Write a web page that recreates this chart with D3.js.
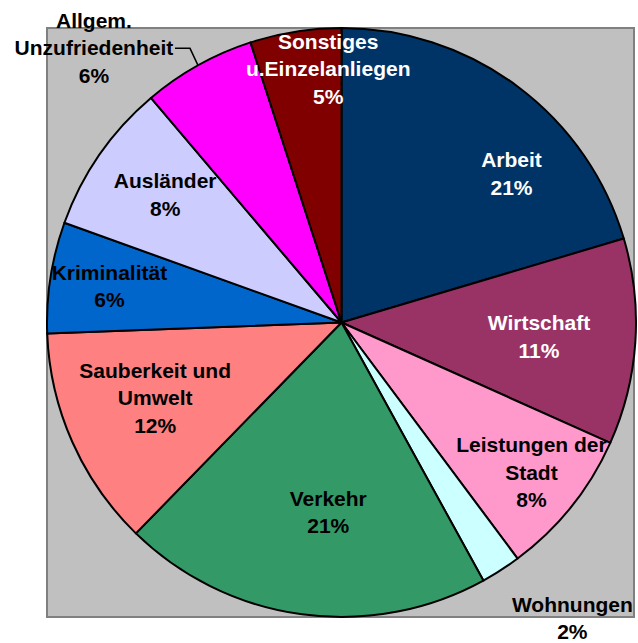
<!DOCTYPE html>
<html>
<head>
<meta charset="utf-8">
<script src="https://cdn.jsdelivr.net/npm/d3@7"></script>
<style>
  body { margin: 0; background: #fff; }
  text { font-family: "Liberation Sans", Arial, sans-serif; font-weight: bold; font-size: 21px; }
</style>
</head>
<body>
<div id="chart"></div>
<script>
// slices clockwise from 12 o'clock
const categories = ["Arbeit", "Wirtschaft", "Leistungen der Stadt", "Wohnungen", "Verkehr",
  "Sauberkeit und Umwelt", "Kriminalität", "Ausländer", "Allgem. Unzufriedenheit", "Sonstiges u.Einzelanliegen"];
const values = [20.4, 11.3, 8.1, 2.2, 20.3, 12.1, 6.1, 8.3, 6.2, 5.0];
const percentLabels = ["21%", "11%", "8%", "2%", "21%", "12%", "6%", "8%", "6%", "5%"];
const labelLines = [["Arbeit"], ["Wirtschaft"], ["Leistungen der", "Stadt"], ["Wohnungen"], ["Verkehr"],
  ["Sauberkeit und", "Umwelt"], ["Kriminalität"], ["Ausländer"], ["Allgem.", "Unzufriedenheit"], ["Sonstiges", "u.Einzelanliegen"]];

const colors = ["#003366", "#993366", "#FF99CC", "#CCFFFF", "#339966",
  "#FF8080", "#0066CC", "#CCCCFF", "#FF00FF", "#800000"];
const textColors = ["#fff", "#fff", "#000", "#000", "#000", "#000", "#000", "#000", "#000", "#fff"];
// label placement: [angle in degrees from north, distance from centre]
const labelPolar = [[48.8, 226], [94, 198], [128.3, 242], [142, 375], [184, 190],
  [248, 201], [279, 235], [306, 218], [318, 370], [357, 254]];
const outside = [false, false, false, true, false, false, false, false, true, false];

const width = 638, height = 643;
const cx = 341.5, cy = 322.5, r = 294.5;

const svg = d3.select("#chart").append("svg")
  .attr("width", width)
  .attr("height", height);

svg.append("defs").append("clipPath")
  .attr("id", "pieclip")
  .append("circle")
  .attr("r", r);

// plot area
svg.append("rect")
  .attr("x", 47).attr("y", 28)
  .attr("width", 587).attr("height", 589)
  .attr("fill", "#C0C0C0")
  .attr("stroke", "#808080")
  .attr("stroke-width", 2);

const pie = d3.pie().sort(null).value((d) => d);
const arcs = pie(values);
const arc = d3.arc().innerRadius(0).outerRadius(r);

const g = svg.append("g").attr("transform", `translate(${cx},${cy})`);

g.selectAll("path")
  .data(arcs)
  .enter()
  .append("path")
  .attr("d", arc)
  .attr("fill", (d, i) => colors[i])
  .attr("stroke", "#000")
  .attr("stroke-width", 2)
  .attr("stroke-linejoin", "round");

// leader line for Allgem. Unzufriedenheit
const lead = arcs[8];
const midA = (lead.startAngle + lead.endAngle) / 2;
const ex = r * Math.sin(midA), ey = -r * Math.cos(midA);
g.append("polyline")
  .attr("points", [[ex, ey], [ex - 8, ey - 17], [ex - 23, ey - 17]].map((p) => p.join(",")).join(" "))
  .attr("fill", "none")
  .attr("stroke", "#000")
  .attr("stroke-width", 1.5);

const lineH = 27.5;
const labels = g.selectAll("text.lbl")
  .data(arcs)
  .enter()
  .append("text")
  .attr("class", "lbl")
  .attr("text-anchor", "middle")
  .attr("fill", (d, i) => textColors[i])
  .attr("clip-path", (d, i) => outside[i] ? null : "url(#pieclip)");

labels.each(function (d, i) {
  const a = labelPolar[i][0] * Math.PI / 180;
  const dist = labelPolar[i][1];
  const lx = dist * Math.sin(a), ly = -dist * Math.cos(a);
  const lines = labelLines[i].concat([percentLabels[i]]);
  const t = d3.select(this);
  const y0 = ly - (lines.length - 1) * lineH / 2 + 7.5;
  lines.forEach((s, j) => {
    t.append("tspan").attr("x", lx).attr("y", y0 + j * lineH).text(s);
  });
});
</script>
</body>
</html>
